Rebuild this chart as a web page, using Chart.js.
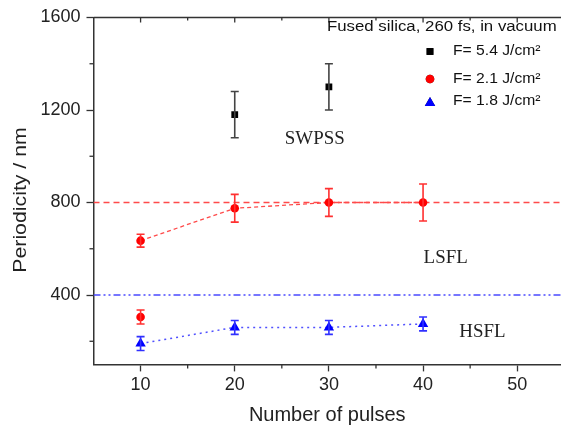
<!DOCTYPE html>
<html><head><meta charset="utf-8">
<script src="https://cdn.jsdelivr.net/npm/chart.js@4/dist/chart.umd.min.js"></script>
<style>html,body{margin:0;padding:0;background:#fff}</style>
</head><body>
<canvas id="c" width="561" height="427"></canvas>
<script>
// ---- data ----
const swpssPulses = [20, 30];
const swpssValues = [1180, 1300];
const swpssErr    = [100, 100];

const lsflPulses = [10, 20, 30, 40];
const lsflValues = [635, 775, 800, 800];
const lsflErr    = [28, 60, 60, 80];

const redExtraPulses = [10];
const redExtraValues = [305];
const redExtraErr    = [30];

const hsflPulses = [10, 20, 30, 40];
const hsflValues = [190, 260, 260, 275];
const hsflErr    = [30, 30, 30, 30];

const refRedValue  = 800;
const refBlueValue = 400;

const xTickValues = [10, 20, 30, 40, 50];
const xMinorValues = [15, 25, 35, 45];
const yTickValues = [400, 800, 1200, 1600];
const yMinorValues = [200, 600, 1000, 1400];

const legendTitle = 'Fused silica, 260 fs, in vacuum';
const legendLabels = ['F= 5.4 J/cm²', 'F= 2.1 J/cm²', 'F= 1.8 J/cm²'];
const regionLabels = ['SWPSS', 'LSFL', 'HSFL'];
const regionLabelX = [28.5, 42.4, 46.3];
const regionLabelY = [1073, 560, 237];

const xTitle = 'Number of pulses';
const yTitle = 'Periodicity / nm';

// ---- helpers ----
const pts = (xs, ys, es) => xs.map((x, i) => ({x, y: ys[i], e: es ? es[i] : 0}));

function drawStretched(ctx, text, x, y, font, sx, align) {
  ctx.save();
  ctx.font = font;
  ctx.textBaseline = 'middle';
  ctx.textAlign = 'left';
  const w = ctx.measureText(text).width * sx;
  let x0 = x;
  if (align === 'center') x0 = x - w / 2;
  ctx.translate(x0, y);
  ctx.scale(sx, 1);
  ctx.fillText(text, 0, 0);
  ctx.restore();
}

const refLinesPlugin = {
  id: 'refLines',
  beforeDatasetsDraw(chart) {
    const {ctx, chartArea: a, scales: {y}} = chart;
    ctx.save();
    ctx.beginPath(); ctx.rect(a.left, a.top, a.right - a.left, a.bottom - a.top); ctx.clip();
    ctx.lineWidth = 1.3;
    ctx.strokeStyle = '#ff4a4a';
    ctx.setLineDash([6, 4]);
    let py = y.getPixelForValue(refRedValue);
    ctx.beginPath(); ctx.moveTo(a.left, py); ctx.lineTo(a.right, py); ctx.stroke();
    ctx.strokeStyle = '#4a4aff';
    ctx.setLineDash([7, 3, 2, 3, 2, 3]);
    py = y.getPixelForValue(refBlueValue);
    ctx.beginPath(); ctx.moveTo(a.left, py); ctx.lineTo(a.right, py); ctx.stroke();
    ctx.restore();
  }
};

const errorBarsPlugin = {
  id: 'errorBars',
  afterDatasetsDraw(chart) {
    const {ctx, scales: {x, y}} = chart;
    ctx.save();
    chart.data.datasets.forEach(ds => {
      if (!ds.errColor) return;
      ctx.strokeStyle = ds.errColor;
      ctx.lineWidth = 1.6;
      ctx.setLineDash([]);
      ds.data.forEach(p => {
        if (!p.e) return;
        const px = x.getPixelForValue(p.x);
        const y1 = y.getPixelForValue(p.y + p.e);
        const y2 = y.getPixelForValue(p.y - p.e);
        ctx.beginPath();
        ctx.moveTo(px, y1); ctx.lineTo(px, y2);
        ctx.moveTo(px - 4, y1); ctx.lineTo(px + 4, y1);
        ctx.moveTo(px - 4, y2); ctx.lineTo(px + 4, y2);
        ctx.stroke();
      });
    });
    ctx.restore();
  }
};

const extrasPlugin = {
  id: 'extras',
  afterDraw(chart) {
    const {ctx, chartArea: a, scales: {x, y}} = chart;
    ctx.save();
    ctx.strokeStyle = '#333';
    ctx.lineWidth = 1.5;
    ctx.beginPath(); ctx.moveTo(a.left, a.top); ctx.lineTo(a.right, a.top); ctx.stroke();
    ctx.lineWidth = 1.3;
    xTickValues.forEach(v => { const px = x.getPixelForValue(v); ctx.beginPath(); ctx.moveTo(px, a.top); ctx.lineTo(px, a.top + 5); ctx.stroke(); });
    xMinorValues.forEach(v => { const px = x.getPixelForValue(v); ctx.beginPath(); ctx.moveTo(px, a.top); ctx.lineTo(px, a.top + 3); ctx.stroke(); });
    xMinorValues.forEach(v => { const px = x.getPixelForValue(v); ctx.beginPath(); ctx.moveTo(px, a.bottom); ctx.lineTo(px, a.bottom + 4); ctx.stroke(); });
    yMinorValues.forEach(v => { const py = y.getPixelForValue(v); ctx.beginPath(); ctx.moveTo(a.left, py); ctx.lineTo(a.left - 4, py); ctx.stroke(); });

    // y axis title (rotated)
    ctx.save();
    ctx.fillStyle = '#222';
    ctx.translate(21, 200);
    ctx.rotate(-Math.PI / 2);
    drawStretched(ctx, yTitle, 0, 0, '19px "Liberation Sans"', 1.12, 'center');
    ctx.restore();

    ctx.fillStyle = '#222';
    regionLabels.forEach((t, i) => {
      drawStretched(ctx, t, x.getPixelForValue(regionLabelX[i]), y.getPixelForValue(regionLabelY[i]), '18px "Liberation Serif"', 1.05, 'center');
    });

    ctx.fillStyle = '#111';
    drawStretched(ctx, legendTitle, 327, 27, '14px "Liberation Sans"', 1.2, 'left');
    const ly = [51.5, 79, 101.5];
    const mx = 430;
    chart.data.datasets.slice(0, 3).forEach((ds, i) => {
      Chart.helpers.drawPoint(ctx, {pointStyle: ds.pointStyle, radius: ds.pointRadius, rotation: 0, borderWidth: 0}, mx, ly[i] + (ds.pointStyle === 'triangle' ? 1.5 : 0));
      ctx.fillStyle = ds.pointBackgroundColor;
      ctx.fill();
      ctx.fillStyle = '#111';
      drawStretched(ctx, legendLabels[i], 453, ly[i], '14px "Liberation Sans"', 1.12, 'left');
    });
    ctx.restore();
  }
};

const tickFont = {family: '"Liberation Sans", Arial, sans-serif', size: 18};
const titleFont = {family: '"Liberation Sans", Arial, sans-serif', size: 20};

new Chart(document.getElementById('c'), {
  type: 'scatter',
  data: {
    datasets: [
      {
        label: legendLabels[0], data: pts(swpssPulses, swpssValues, swpssErr),
        showLine: false, pointStyle: 'rect', pointRadius: 4.8,
        pointBackgroundColor: '#000', pointBorderColor: '#000', pointBorderWidth: 0,
        errColor: '#444'
      },
      {
        label: legendLabels[1], data: pts(lsflPulses, lsflValues, lsflErr),
        showLine: true, borderColor: '#ff4a4a', borderWidth: 1.3, borderDash: [4, 3],
        pointStyle: 'circle', pointRadius: 4.3,
        pointBackgroundColor: '#ff0000', pointBorderColor: '#ff0000', pointBorderWidth: 0,
        errColor: '#ff3030'
      },
      {
        label: legendLabels[2], data: pts(hsflPulses, hsflValues, hsflErr),
        showLine: true, borderColor: '#5050ff', borderWidth: 1.5, borderDash: [2, 4],
        pointStyle: 'triangle', pointRadius: 6,
        pointBackgroundColor: '#0000ff', pointBorderColor: '#0000ff', pointBorderWidth: 0,
        errColor: '#3030ff'
      },
      {
        label: 'extra', data: pts(redExtraPulses, redExtraValues, redExtraErr),
        showLine: false, pointStyle: 'circle', pointRadius: 4.3,
        pointBackgroundColor: '#ff0000', pointBorderColor: '#ff0000', pointBorderWidth: 0,
        errColor: '#ff3030'
      }
    ]
  },
  options: {
    responsive: false,
    devicePixelRatio: 1,
    animation: false,
    layout: {autoPadding: false, padding: {left: 0, right: 0, top: 17.5, bottom: 0}},
    plugins: {legend: {display: false}, tooltip: {enabled: false}},
    scales: {
      x: {
        type: 'linear', min: 5, max: 54.65,
        afterBuildTicks: s => { s.ticks = xTickValues.map(v => ({value: v})); },
        afterFit: s => { s.height = 62.6; },
        grid: {drawOnChartArea: false, tickLength: 7, color: '#333', tickWidth: 1.3},
        border: {display: true, color: '#333', width: 1.5},
        ticks: {font: tickFont, color: '#222', padding: 3, maxRotation: 0, callback: v => String(v)},
        title: {display: true, text: xTitle, font: titleFont, color: '#222', padding: {top: 0, bottom: 0}}
      },
      y: {
        type: 'linear', min: 100, max: 1600,
        afterBuildTicks: s => { s.ticks = yTickValues.map(v => ({value: v})); },
        afterFit: s => { s.width = 93.5; },
        grid: {drawOnChartArea: false, tickLength: 7, color: '#333', tickWidth: 1.3},
        border: {display: true, color: '#333', width: 1.5},
        ticks: {font: tickFont, color: '#222', padding: 6, callback: v => String(v)},
        title: {display: false, text: yTitle}
      }
    }
  },
  plugins: [refLinesPlugin, errorBarsPlugin, extrasPlugin]
});
</script>
</body></html>
